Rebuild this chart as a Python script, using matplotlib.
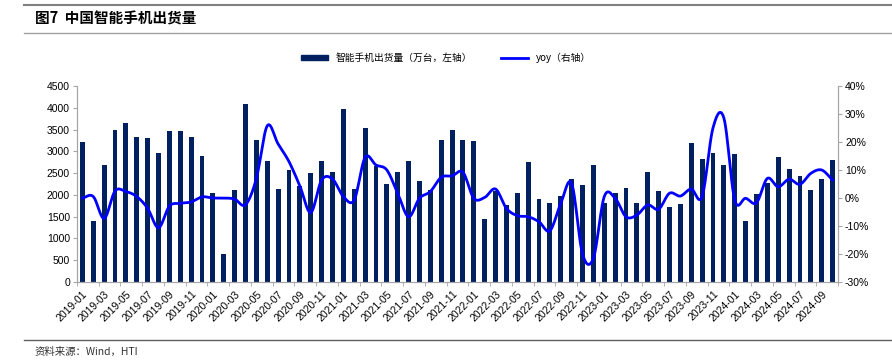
import numpy as np
import matplotlib
matplotlib.use("Agg")
import matplotlib.pyplot as plt
from matplotlib.lines import Line2D
from matplotlib.patches import Patch

plt.rcParams['font.family'] = ['Liberation Sans', 'Noto Sans CJK SC', 'DejaVu Sans']

months = [f"{y}-{m:02d}" for y in range(2019, 2025) for m in range(1, 13)][:70]

shipments = [3210, 1390, 2690, 3480, 3650, 3320, 3300, 2960, 3470, 3460, 3340, 2890,
             2040, 635, 2105, 4080, 3260, 2780, 2135, 2560, 2200, 2500, 2780, 2530,
             3965, 2135, 3530, 2660, 2260, 2520, 2780, 2310, 2110, 3270, 3480, 3270,
             3240, 1450, 2080, 1760, 2050, 2750, 1910, 1810, 1980, 2370, 2220, 2680,
             1820, 2040, 2150, 1810, 2520, 2090, 1730, 1790, 3190, 2820, 2960, 2680,
             2950, 1390, 2020, 2270, 2860, 2590, 2430, 2110, 2370, 2790]

yoy = [0.0, 0.5, -7.3, 2.5, 2.3, 0.5, -3.7, -10.6, -2.9, -1.9, -1.4, 0.4,
       0.0, 0.0, -0.4, -2.4, 7.0, 25.8, 19.3, 13.0, 4.3, -5.2, 6.4, 6.8,
       0.5, -0.7, 14.5, 11.8, 10.0, 1.7, -6.7, -0.1, 2.3, 7.4, 7.9, 9.2,
       -0.1, 0.2, 3.2, -3.7, -6.3, -6.7, -8.5, -11.7, -1.9, 5.2, -20.0, -21.5,
       0.5, -0.1, -6.7, -6.1, -2.5, -4.0, 1.7, 0.7, 3.2, 0.5, 25.0, 28.6,
       -0.7, -0.1, -1.7, 7.0, 4.0, 6.7, 4.9, 8.8, 10.0, 6.4]

BAR = '#002060'
LINE = '#0000FF'
GRAY = '#A6A6A6'

def catmull_rom(x, y, n=12):
    x = np.asarray(x, float); y = np.asarray(y, float)
    px = np.concatenate([[2*x[0]-x[1]], x, [2*x[-1]-x[-2]]])
    py = np.concatenate([[2*y[0]-y[1]], y, [2*y[-1]-y[-2]]])
    xs, ys = [], []
    t = np.linspace(0, 1, n, endpoint=False)
    for i in range(1, len(px)-2):
        p0, p1, p2, p3 = py[i-1], py[i], py[i+1], py[i+2]
        ys.append(0.5*((2*p1) + (-p0+p2)*t + (2*p0-5*p1+4*p2-p3)*t**2 + (-p0+3*p1-3*p2+p3)*t**3))
        xs.append(px[i] + (px[i+1]-px[i])*t)
    xs.append([x[-1]]); ys.append([y[-1]])
    return np.concatenate(xs), np.concatenate(ys)

fig = plt.figure(figsize=(8.92, 3.61), dpi=100)
ax = fig.add_axes([77/892, 1-282/361, (838-77)/892, (282-86)/361])
x = np.arange(len(months))
ax.bar(x, shipments, width=0.45, color=BAR, zorder=2)
ax.set_xlim(-0.5, len(months)-0.5)
ax.set_ylim(0, 4500)
ax.set_yticks(np.arange(0, 4501, 500))
ax.set_xticks(x[::2])
ax.set_xticklabels(months[::2], rotation=45, ha='right', rotation_mode='anchor', fontsize=7.5)
ax.tick_params(axis='x', length=0, pad=5)
ax.set_xticks(np.arange(-0.5, len(months), 2), minor=True)
ax.tick_params(axis='x', which='minor', length=3, color=GRAY)
ax.tick_params(axis='y', labelsize=7.5, length=3, color=GRAY, pad=2)
ax.spines['top'].set_visible(False)
for s in ['left', 'bottom', 'right']:
    ax.spines[s].set_color(GRAY)

ax2 = ax.twinx()
sx, sy = catmull_rom(x, yoy)
ax2.plot(sx, sy, color=LINE, lw=2, zorder=3)
ax2.set_ylim(-30, 40)
ax2.set_yticks(np.arange(-30, 41, 10))
ax2.set_yticklabels([f"{v}%" for v in range(-30, 41, 10)])
ax2.tick_params(axis='y', labelsize=7.5, length=3, color=GRAY, pad=2)
ax2.spines['top'].set_visible(False)
for s in ['left', 'bottom', 'right']:
    ax2.spines[s].set_color(GRAY)

# legend
handles = [Patch(facecolor=BAR, edgecolor=BAR), Line2D([0], [0], color=LINE, lw=2)]
labels = ['智能手机出货量（万台，左轴）', 'yoy（右轴）']
fig.legend(handles, labels, loc='center', bbox_to_anchor=(0.5, 1-58/361), ncol=2,
           frameon=False, handlelength=2.8, handleheight=0.5, columnspacing=3,
           prop={'family': ['Noto Sans CJK SC', 'DejaVu Sans'], 'size': 7})

# title and decorations
fig.add_artist(Line2D([24/892, 1], [1-5/361, 1-5/361], color='#808080', lw=1.5))
fig.add_artist(Line2D([24/892, 1], [1-33/361, 1-33/361], color='#A0A0A0', lw=1))
fig.add_artist(Line2D([24/892, 1], [1-340/361, 1-340/361], color='#606060', lw=1))
fig.text(35/892, 1-19/361, '图7  中国智能手机出货量', fontsize=10.5, fontweight='bold',
         va='center', ha='left', family=['Noto Sans CJK SC', 'DejaVu Sans'])
fig.text(35/892, 1-352/361, '资料来源：Wind，HTI', fontsize=7.5, va='center', ha='left',
         family=['Noto Sans CJK SC', 'DejaVu Sans'], color='#333333')

fig.savefig('out.png', dpi=100)
